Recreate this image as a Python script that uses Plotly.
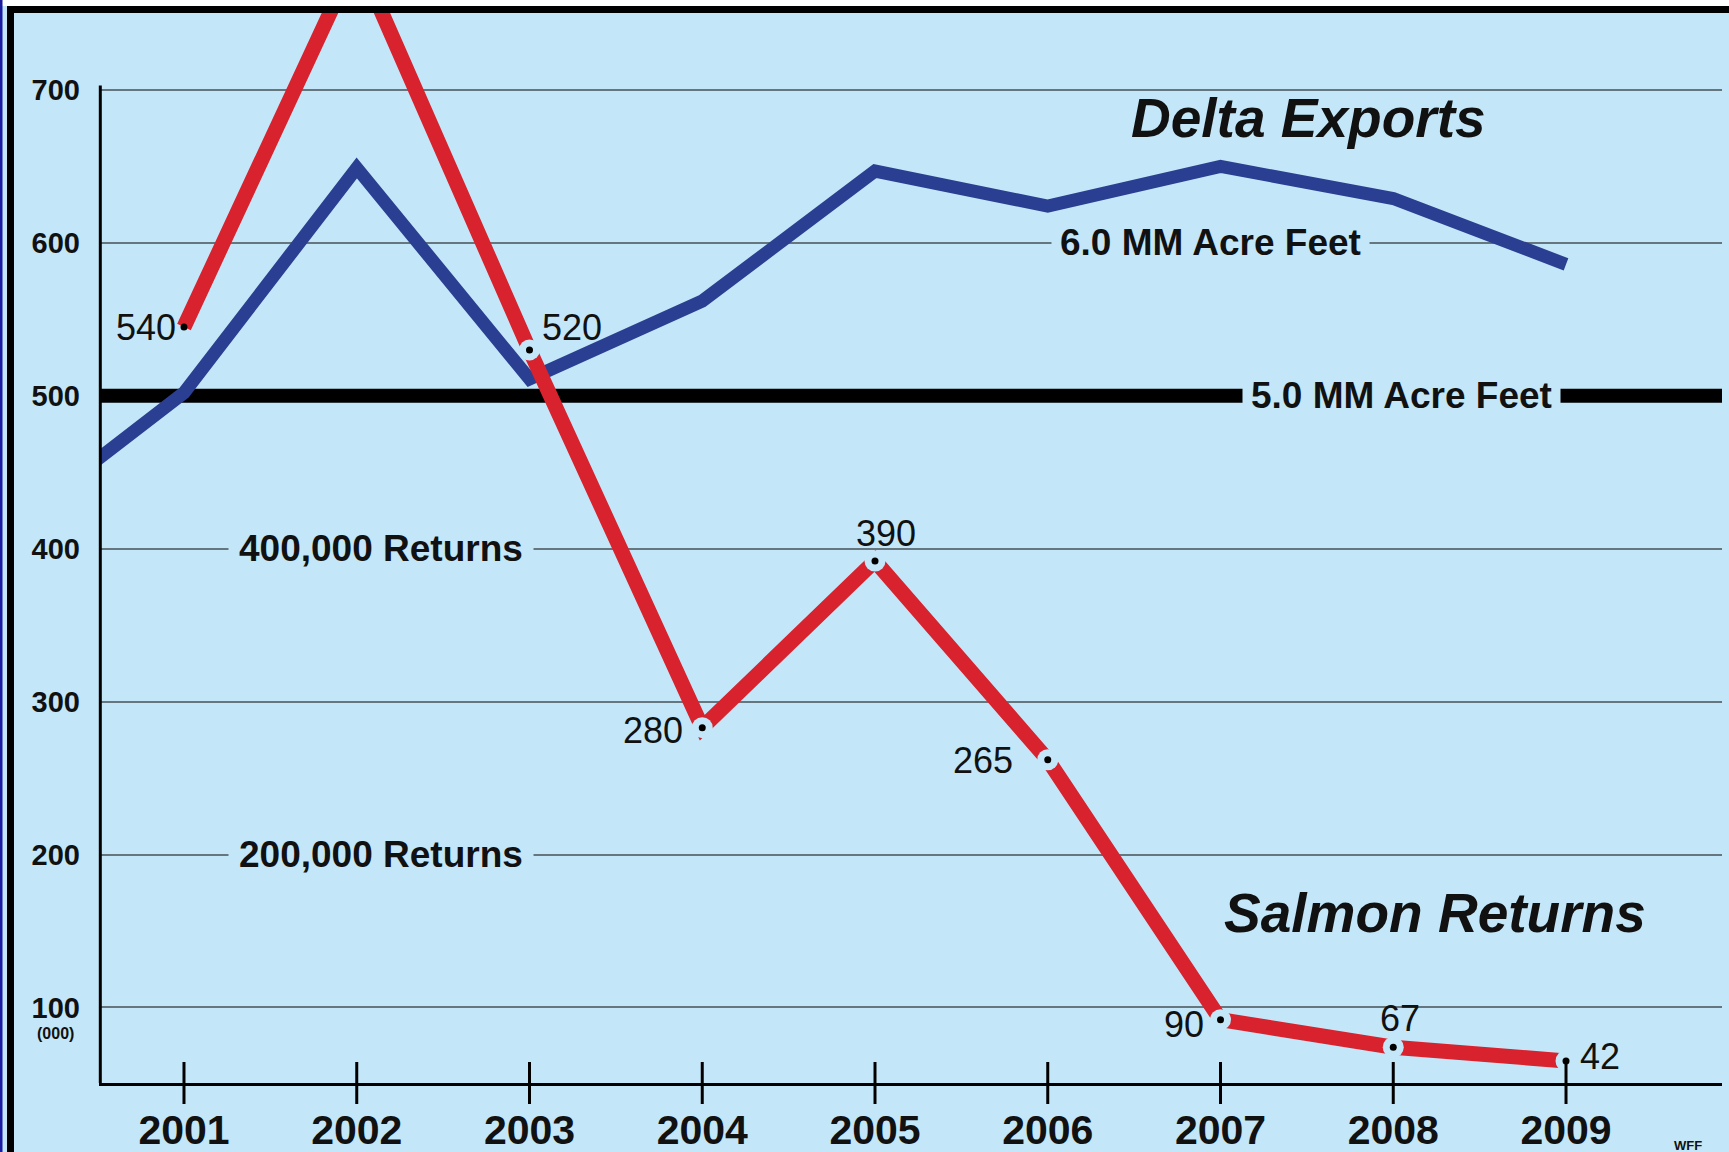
import plotly.graph_objects as go

# ---------------- data ----------------
years = [2001, 2002, 2003, 2004, 2005, 2006, 2007, 2008, 2009]
year_labels = ["2001", "2002", "2003", "2004", "2005", "2006", "2007", "2008", "2009"]

# Salmon returns (thousands) - plotted heights as drawn, and printed labels
salmon_values = [545, 788, 530, 283, 392, 262, 92, 74, 65]
salmon_labels = ["540", "", "520", "280", "390", "265", "90", "67", "42"]

# Delta exports (100 = 1.0 MM acre feet), line starts before 2001
export_years = [2000, 2001, 2002, 2003, 2004, 2005, 2006, 2007, 2008, 2009]
export_values = [415, 502, 649, 511, 562, 647, 624, 650, 629, 586]

# reference level: 5.0 MM acre feet
reference_level = 500

y_ticks = [100, 200, 300, 400, 500, 600, 700]
y_tick_labels = ["100", "200", "300", "400", "500", "600", "700"]

# ---------------- styles ----------------
BG = "#C3E7F8"
RED = "#D8222D"
BLUE = "#2B3F92"
GRID = "#66767F"
TXT = "#111111"
FONT = "Liberation Sans, Arial, sans-serif"

W, H = 1729, 1152
ML, MR, MT, MB = 99, 7, 12, 69
X_RANGE = [2000.508, 2009.903]
Y_RANGE = [50.6, 751]

def px(p):
    return (p - ML) / (W - ML - MR)

def py(p):
    return (H - MB - p) / (H - MT - MB)

# label placement styles: (xanchor, xshift, yshift)
label_styles = [
    ("right", -6, 0),
    ("center", 0, 0),
    ("left", 10, 22),
    ("right", -17, -3),
    ("center", 11, 27),
    ("right", -33, -1),
    ("right", -15, -5),
    ("center", 7, 29),
    ("left", 12, 4),
]

fig = go.Figure()

# heavy 5.0 MM acre-feet line (drawn first so the series pass over it)
fig.add_trace(go.Scatter(
    x=X_RANGE, y=[reference_level, reference_level], mode="lines",
    line=dict(color="black", width=14), hoverinfo="skip"))

fig.add_trace(go.Scatter(
    x=export_years, y=export_values, mode="lines",
    line=dict(color=BLUE, width=13), hoverinfo="skip"))

fig.add_trace(go.Scatter(
    x=years, y=salmon_values, mode="lines",
    line=dict(color=RED, width=15), hoverinfo="skip"))

# small gaps in the red line around the data dots
gap_idx = [i for i in range(2, len(years))]
fig.add_trace(go.Scatter(
    x=[years[i] for i in gap_idx], y=[salmon_values[i] for i in gap_idx],
    mode="markers", marker=dict(color=BG, size=21, line=dict(width=0)),
    hoverinfo="skip"))

dot_idx = [i for i, t in enumerate(salmon_labels) if t]
fig.add_trace(go.Scatter(
    x=[years[i] for i in dot_idx], y=[salmon_values[i] for i in dot_idx],
    mode="markers", marker=dict(color="black", size=7),
    hoverinfo="skip"))

# tick marks crossing the x axis
fig.add_trace(go.Scatter(
    x=years, y=[Y_RANGE[0]] * len(years), mode="markers",
    marker=dict(symbol="line-ns", size=30, line=dict(width=3, color="black")),
    cliponaxis=False, hoverinfo="skip"))

annotations = []
for i in dot_idx:
    xa, xs, ys = label_styles[i]
    annotations.append(dict(
        x=years[i], y=salmon_values[i], xref="x", yref="y",
        text=salmon_labels[i], showarrow=False, xanchor=xa, yanchor="middle",
        xshift=xs, yshift=ys, font=dict(size=36, color=TXT, family=FONT)))

def band_label(text, x, y, pad=8):
    return dict(x=x, y=y, xref="x", yref="y", text="<b>%s</b>" % text,
                showarrow=False, xanchor="center", yanchor="middle",
                bgcolor=BG, borderpad=pad,
                font=dict(size=37, color=TXT, family=FONT))

annotations += [
    band_label("6.0 MM Acre Feet", 2006.94, 600),
    band_label("5.0 MM Acre Feet", 2008.05, 500),
    band_label("400,000 Returns", 2002.14, 400, 10),
    band_label("200,000 Returns", 2002.14, 200, 10),
    dict(x=2007.51, y=682, xref="x", yref="y", text="<b><i>Delta Exports</i></b>",
         showarrow=False, xanchor="center", yanchor="middle",
         font=dict(size=55, color=TXT, family=FONT)),
    dict(x=2008.24, y=162, xref="x", yref="y", text="<b><i>Salmon Returns</i></b>",
         showarrow=False, xanchor="center", yanchor="middle",
         font=dict(size=55, color=TXT, family=FONT)),
    dict(x=px(55), y=83, xref="paper", yref="y", text="<b>(000)</b>",
         showarrow=False, xanchor="center", yanchor="middle",
         font=dict(size=16, color=TXT, family=FONT)),
    dict(x=px(1688), y=py(1145), xref="paper", yref="paper", text="<b>WFF</b>",
         showarrow=False, xanchor="center", yanchor="middle",
         font=dict(size=13, color=TXT, family=FONT)),
]

shapes = [
    # partial y axis line
    dict(type="line", xref="paper", yref="y", x0=0.0008, x1=0.0008,
         y0=Y_RANGE[0], y1=703, line=dict(color="black", width=3)),
    # frame
    dict(type="rect", xref="paper", yref="paper", x0=px(0), x1=px(W),
         y0=py(6), y1=py(0), fillcolor="white", line=dict(width=0)),
    dict(type="rect", xref="paper", yref="paper", x0=px(0), x1=px(2.5),
         y0=py(H), y1=py(0), fillcolor="#1B1B9E", line=dict(width=0)),
    dict(type="line", xref="paper", yref="paper", x0=px(7), x1=px(W),
         y0=py(9.5), y1=py(9.5), line=dict(color="black", width=7)),
    dict(type="line", xref="paper", yref="paper", x0=px(10.5), x1=px(10.5),
         y0=py(H), y1=py(6), line=dict(color="black", width=7)),
]

fig.update_layout(
    width=W, height=H,
    margin=dict(l=ML, r=MR, t=MT, b=MB, autoexpand=False),
    paper_bgcolor=BG, plot_bgcolor=BG,
    showlegend=False,
    font=dict(family=FONT, color=TXT),
    annotations=annotations,
    shapes=shapes,
    xaxis=dict(range=X_RANGE, tickvals=years,
               ticktext=["<b>%s</b>" % t for t in year_labels],
               showgrid=False, zeroline=False, showline=True,
               linecolor="black", linewidth=3, ticks="", automargin=False,
               tickfont=dict(size=41, color=TXT, family=FONT),
               ticklabelstandoff=9),
    yaxis=dict(range=Y_RANGE, tickvals=y_ticks,
               ticktext=["<b>%s</b>" % t for t in y_tick_labels],
               showgrid=True, gridcolor=GRID, gridwidth=2,
               zeroline=False, showline=False, ticks="", automargin=False,
               tickfont=dict(size=29, color=TXT, family=FONT),
               ticklabelstandoff=18),
)

fig.write_html("out.html",
               config={"displayModeBar": False},
               post_script="document.body.style.margin='0';document.body.style.overflow='hidden';")
